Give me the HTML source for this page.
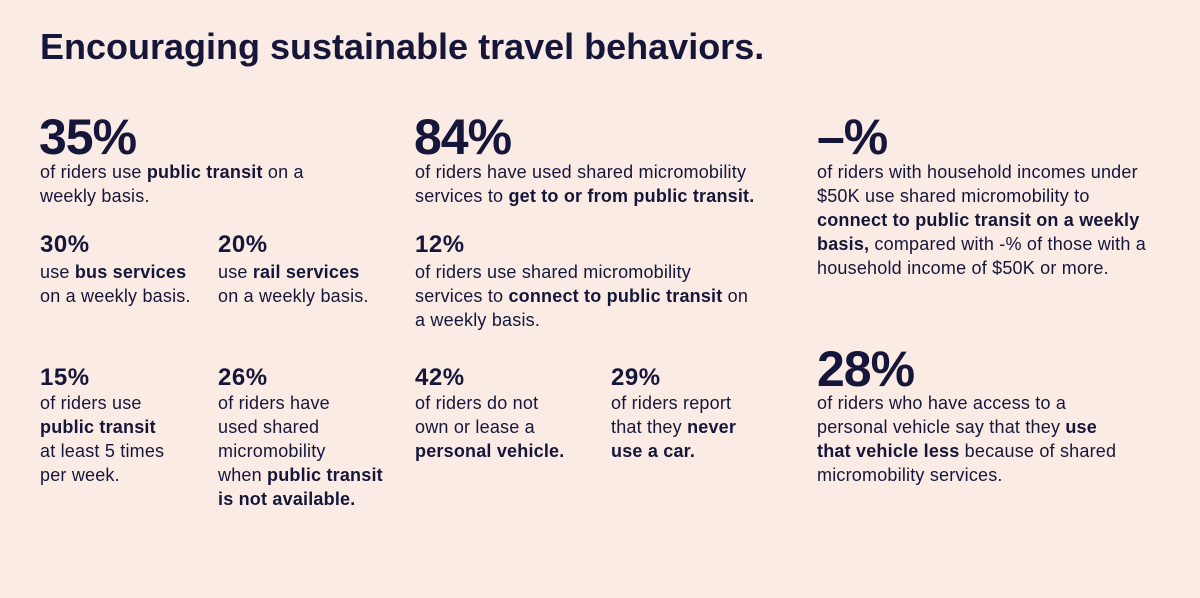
<!DOCTYPE html>
<html><head><meta charset="utf-8"><style>
body{margin:0;width:1200px;height:598px;background:#fbebe5;overflow:hidden;font-family:"Liberation Sans",sans-serif;color:#15163a;position:relative}
.t{position:absolute;white-space:nowrap;font-size:18px;line-height:24px;letter-spacing:0.2px}
.h{position:absolute;font-weight:bold;white-space:nowrap}
.big{font-size:50px;line-height:50px;letter-spacing:-1px}
.mid{font-size:24px;line-height:24px;letter-spacing:0.5px}
b{font-weight:bold}
</style></head><body>
<div class="h" style="left:40px;top:27px;font-size:36px;line-height:40px;letter-spacing:0px">Encouraging sustainable travel behaviors.</div>

<div class="h big" style="left:39px;top:112px">35%</div>
<div class="t" style="left:40px;top:160px">of riders use <b>public transit</b> on a<br>weekly basis.</div>
<div class="h mid" style="left:40px;top:233px">30%</div>
<div class="t" style="left:40px;top:260px">use <b>bus services</b><br>on a weekly basis.</div>
<div class="h mid" style="left:218px;top:233px">20%</div>
<div class="t" style="left:218px;top:260px">use <b>rail services</b><br>on a weekly basis.</div>
<div class="h mid" style="left:40px;top:366px">15%</div>
<div class="t" style="left:40px;top:391px">of riders use<br><b>public transit</b><br>at least 5 times<br>per week.</div>
<div class="h mid" style="left:218px;top:366px">26%</div>
<div class="t" style="left:218px;top:391px">of riders have<br>used shared<br>micromobility<br>when <b>public transit<br>is not available.</b></div>

<div class="h big" style="left:414px;top:112px">84%</div>
<div class="t" style="left:415px;top:160px">of riders have used shared micromobility<br>services to <b>get to or from public transit.</b></div>
<div class="h mid" style="left:415px;top:233px">12%</div>
<div class="t" style="left:415px;top:260px">of riders use shared micromobility<br>services to <b>connect to public transit</b> on<br>a weekly basis.</div>
<div class="h mid" style="left:415px;top:366px">42%</div>
<div class="t" style="left:415px;top:391px">of riders do not<br>own or lease a<br><b>personal vehicle.</b></div>
<div class="h mid" style="left:611px;top:366px">29%</div>
<div class="t" style="left:611px;top:391px">of riders report<br>that they <b>never<br>use a car.</b></div>

<div class="h big" style="left:817px;top:112px">–%</div>
<div class="t" style="left:817px;top:160px">of riders with household incomes under<br>$50K use shared micromobility to<br><b>connect to public transit on a weekly<br>basis,</b> compared with -% of those with a<br>household income of $50K or more.</div>
<div class="h big" style="left:817px;top:344px">28%</div>
<div class="t" style="left:817px;top:391px">of riders who have access to a<br>personal vehicle say that they <b>use<br>that vehicle less</b> because of shared<br>micromobility services.</div>
</body></html>
